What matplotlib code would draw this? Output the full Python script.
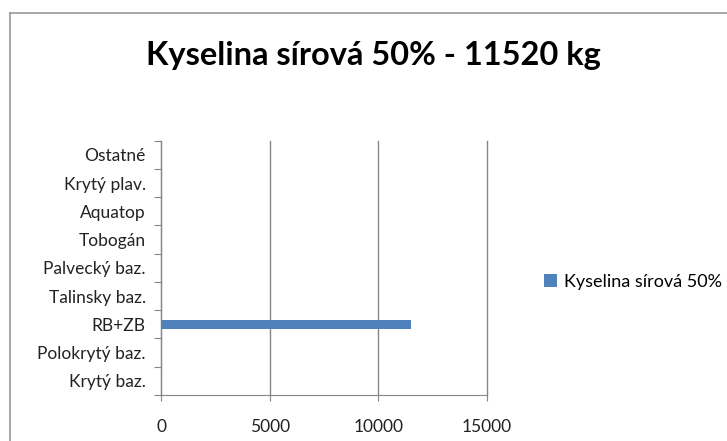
import matplotlib.pyplot as plt
import numpy as np

categories = ["Krytý baz.", "Polokrytý baz.", "RB+ZB", "Talinsky baz.", "Palvecký baz.",
              "Tobogán", "Aquatop", "Krytý plav.", "Ostatné"]
values = [0, 0, 11520, 0, 0, 0, 0, 0, 0]
series_name = "Kyselina sírová 50%"
title = "Kyselina sírová 50% - 11520 kg"
xticks = [0, 5000, 10000, 15000]

plt.rcParams['font.family'] = ['Lato', 'DejaVu Sans']

fig = plt.figure(figsize=(7.27, 4.41), dpi=100)
ax = fig.add_axes([0.2215, 0.1043, 0.4485, 0.5767])

y = np.arange(len(categories))
ax.barh(y, values, height=0.3, color='#4F81BD', label=series_name, zorder=3)

ax.set_xlim(0, 15000)
ax.set_ylim(-0.5, len(categories) - 0.5)
ax.set_xticks(xticks)
ax.set_xticklabels([str(v) for v in xticks], fontsize=12.5, color='#222222')
ax.tick_params(axis='x', length=4, color='#868686', pad=13)
ax.xaxis.grid(True, color='#868686', linewidth=1, zorder=0)
for gl in ax.get_xgridlines():
    gl.set_clip_on(False)

# category labels sit between the boundary ticks
ax.set_yticks(np.arange(-0.5, len(categories)), labels=[''] * (len(categories) + 1))
ax.set_yticks(y, labels=categories, minor=True)
ax.tick_params(axis='y', which='major', length=5, color='#868686')
ax.tick_params(axis='y', which='minor', length=0, pad=11, labelsize=12.5, labelcolor='#222222')

for side in ['top', 'right']:
    ax.spines[side].set_visible(False)
ax.spines['left'].set_color('#868686')
ax.spines['bottom'].set_color('#868686')

fig.text(0.514, 0.875, title, ha='center', va='center', fontsize=23.5, fontweight='bold')

ax.legend(loc='center left', bbox_to_anchor=(1.125, 0.445), frameon=False, fontsize=13,
          handlelength=0.7, handleheight=0.7, handletextpad=0.4)

# chart border
fig.add_artist(plt.Line2D([10 / 727, 10 / 727], [0, 1 - 13 / 441], color='#9a9a9a', lw=1.2))
fig.add_artist(plt.Line2D([10 / 727, 1], [1 - 13 / 441, 1 - 13 / 441], color='#9a9a9a', lw=1.2))

fig.savefig('out.png', dpi=100)
